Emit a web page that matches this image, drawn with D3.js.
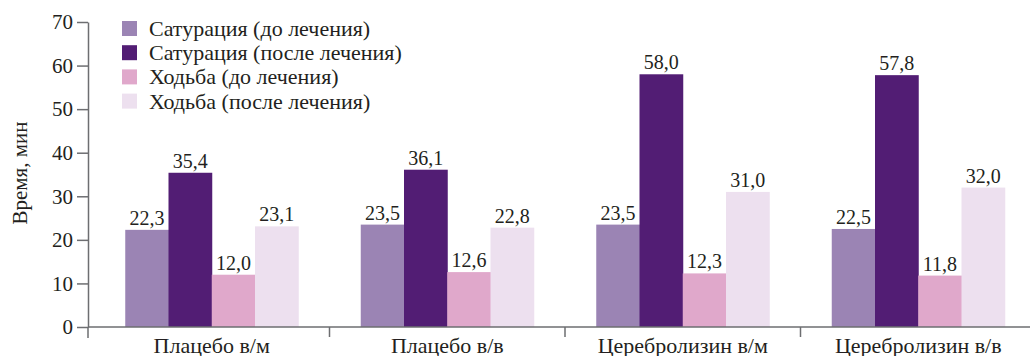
<!DOCTYPE html>
<html>
<head>
<meta charset="utf-8">
<script src="https://cdn.jsdelivr.net/npm/d3@7"></script>
<style>
  body { margin: 0; background: #fff; }
  svg { display: block; }
  svg text { font-family: "Liberation Serif", "Times New Roman", "DejaVu Serif", serif; }
  .axis path, .axis line { stroke: #6d6e71; stroke-width: 1.5; }
  .axis text { font-size: 21px; fill: #231f20; }
  .axis .cat { font-size: 22px; }
</style>
</head>
<body>
<svg id="chart" width="1030" height="356"></svg>
<script>
var categories = ['Плацебо в/м', 'Плацебо в/в', 'Церебролизин в/м', 'Церебролизин в/в'];
var seriesNames = ['Сатурация (до лечения)', 'Сатурация (после лечения)', 'Ходьба (до лечения)', 'Ходьба (после лечения)'];
var seriesColors = ['#9b84b4', '#521d74', '#e0a8cb', '#ede0ef'];
var satBefore = [22.3, 23.5, 23.5, 22.5];
var satAfter = [35.4, 36.1, 58.0, 57.8];
var walkBefore = [12.0, 12.6, 12.3, 11.8];
var walkAfter = [23.1, 22.8, 31.0, 32.0];
var yTicks = [0, 10, 20, 30, 40, 50, 60, 70];

var series = [satBefore, satAfter, walkBefore, walkAfter];

var svg = d3.select('#chart');
var width = 1030;
var axisX = 88;
var y0 = 327;

var y = d3.scaleLinear()
    .domain([0, 70])
    .range([y0, 22]);

var x = d3.scaleBand()
    .domain(categories)
    .range([94, 1036]);

var xInner = d3.scaleBand()
    .domain(seriesNames)
    .range([0, 173]);

var fmt = function(v) { return v.toFixed(1).replace('.', ','); };

// bars
var groups = svg.append('g').selectAll('g')
    .data(categories)
    .enter()
    .append('g')
    .attr('transform', function(d) { return 'translate(' + (x(d) + x.bandwidth() / 2 - 86.5) + ',0)'; });

groups.selectAll('rect')
    .data(function(d, i) { return series.map(function(s, j) { return { name: seriesNames[j], value: s[i], k: j }; }); })
    .enter()
    .append('rect')
    .attr('x', function(d) { return xInner(d.name); })
    .attr('y', function(d) { return y(d.value); })
    .attr('width', xInner.bandwidth() + 0.5)
    .attr('height', function(d) { return y0 - y(d.value); })
    .attr('fill', function(d) { return seriesColors[d.k]; });

groups.selectAll('text')
    .data(function(d, i) { return series.map(function(s, j) { return { name: seriesNames[j], value: s[i] }; }); })
    .enter()
    .append('text')
    .attr('x', function(d) { return xInner(d.name) + xInner.bandwidth() / 2; })
    .attr('y', function(d) { return y(d.value) - 5; })
    .attr('text-anchor', 'middle')
    .attr('font-size', '20px')
    .attr('fill', '#231f20')
    .text(function(d) { return fmt(d.value); });

// y axis
var yAxis = svg.append('g')
    .attr('class', 'axis')
    .attr('transform', 'translate(' + axisX + ',0)')
    .call(d3.axisLeft(y).tickValues(yTicks).tickSize(11).tickSizeOuter(0).tickPadding(4));

yAxis.append('line')
    .attr('x1', 0).attr('x2', 0)
    .attr('y1', y0).attr('y2', 338);

// x axis
var xAxis = svg.append('g').attr('class', 'axis');

xAxis.append('line')
    .attr('x1', axisX).attr('x2', width)
    .attr('y1', y0).attr('y2', y0);

xAxis.selectAll('.sep')
    .data(categories.slice(1))
    .enter()
    .append('line')
    .attr('class', 'sep')
    .attr('x1', function(d) { return x(d); })
    .attr('x2', function(d) { return x(d); })
    .attr('y1', y0).attr('y2', 337);

xAxis.selectAll('.cat')
    .data(categories)
    .enter()
    .append('text')
    .attr('class', 'cat')
    .attr('x', function(d) { return x(d) + x.bandwidth() / 2; })
    .attr('y', 353)
    .attr('text-anchor', 'middle')
    .text(function(d) { return d; });

// y title
svg.append('text')
    .attr('transform', 'translate(27,173) rotate(-90)')
    .attr('text-anchor', 'middle')
    .attr('font-size', '21px')
    .attr('fill', '#231f20')
    .text('Время, мин');

// legend
var legend = svg.append('g').selectAll('g')
    .data(seriesNames)
    .enter()
    .append('g')
    .attr('transform', function(d, i) { return 'translate(122,' + (21 + i * 24.2) + ')'; });

legend.append('rect')
    .attr('width', 15)
    .attr('height', 15)
    .attr('fill', function(d, i) { return seriesColors[i]; });

legend.append('text')
    .attr('x', 27)
    .attr('y', 15)
    .attr('font-size', '22px')
    .attr('fill', '#231f20')
    .text(function(d) { return d; });
</script>
</body>
</html>
